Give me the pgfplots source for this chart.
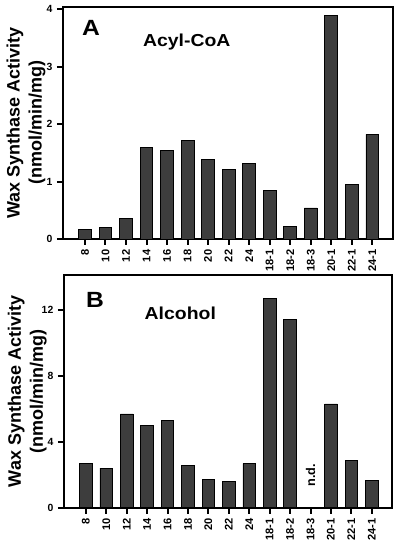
\documentclass[border=0pt]{standalone}
\usepackage{fontspec}
\setmainfont{Liberation Sans}
\usepackage{graphicx}
\usepackage{pgfplots}
\pgfplotsset{compat=1.18}

\pgfplotsset{
  panel/.style={
    scale only axis,
    xmin=-1.07, xmax=14.99, ymin=0,
    xtick={0,...,14},
    xticklabels={8,10,12,14,16,18,20,22,24,18-1,18-2,18-3,20-1,22-1,24-1},
    x tick label style={rotate=90, anchor=east, font=\bfseries\fontsize{8.3}{9}\selectfont},
    y tick label style={font=\bfseries\fontsize{7.8}{9}\selectfont},
    /pgf/number format/assume math mode=true,
    tick align=outside,
    major tick length=4.5pt,
    every tick/.style={black, line width=1.5pt},
    axis line style={line width=1.5pt},
    xtick pos=lower, ytick pos=left,
    ybar, bar width=0.62,
    ylabel={Wax Synthase Activity\\(nmol/min/mg)},
    ylabel style={align=center, font=\bfseries\fontsize{13.5}{16.5}\selectfont,
      at={(axis description cs:-0.112,0.5)}, anchor=center},
  },
  barstyle/.style={fill=black!76, draw=black, line width=0.6pt},
}

\begin{document}
\begin{tikzpicture}
\useasboundingbox (0,0) rectangle (300pt,408.75pt);

\begin{axis}[panel, at={(47.25pt,229.5pt)}, anchor=south west,
  width=247.2pt, height=174pt, ymax=4.04, ytick={0,1,2,3,4}]
\addplot[barstyle] coordinates {
 (0,0.16) (1,0.20) (2,0.35) (3,1.60) (4,1.54) (5,1.71) (6,1.38) (7,1.21)
 (8,1.32) (9,0.84) (10,0.22) (11,0.54) (12,3.90) (13,0.95) (14,1.82)};
\node[anchor=base west, font=\bfseries\fontsize{16.5}{18}\selectfont] at (rel axis cs:0.044,0.875) {\scalebox{1.12}[1]{A}};
\node[anchor=base west, font=\bfseries\fontsize{13}{15}\selectfont] at (rel axis cs:0.2287,0.8276) {\scalebox{1.12}[1]{Acyl-CoA}};
\end{axis}

\begin{axis}[panel, at={(48pt,27.98pt)}, anchor=south west,
  width=246pt, height=174.5pt, ymax=14.13, ytick={0,4,8,12}]
\addplot[barstyle] coordinates {
 (0,2.69) (1,2.41) (2,5.69) (3,4.98) (4,5.30) (5,2.59) (6,1.72) (7,1.62)
 (8,2.67) (9,12.69) (10,11.44) (12,6.30) (13,2.89) (14,1.68)};
\node[anchor=base west, font=\bfseries\fontsize{16.5}{18}\selectfont] at (rel axis cs:0.0529,0.8625) {\scalebox{1.12}[1]{B}};
\node[anchor=base west, font=\bfseries\fontsize{13}{15}\selectfont] at (rel axis cs:0.2317,0.8096) {\scalebox{1.12}[1]{Alcohol}};
\node[rotate=90, anchor=west, font=\bfseries\fontsize{9.5}{11}\selectfont] at (axis cs:11,1.0) {n.d.};
\end{axis}
\end{tikzpicture}
\end{document}
